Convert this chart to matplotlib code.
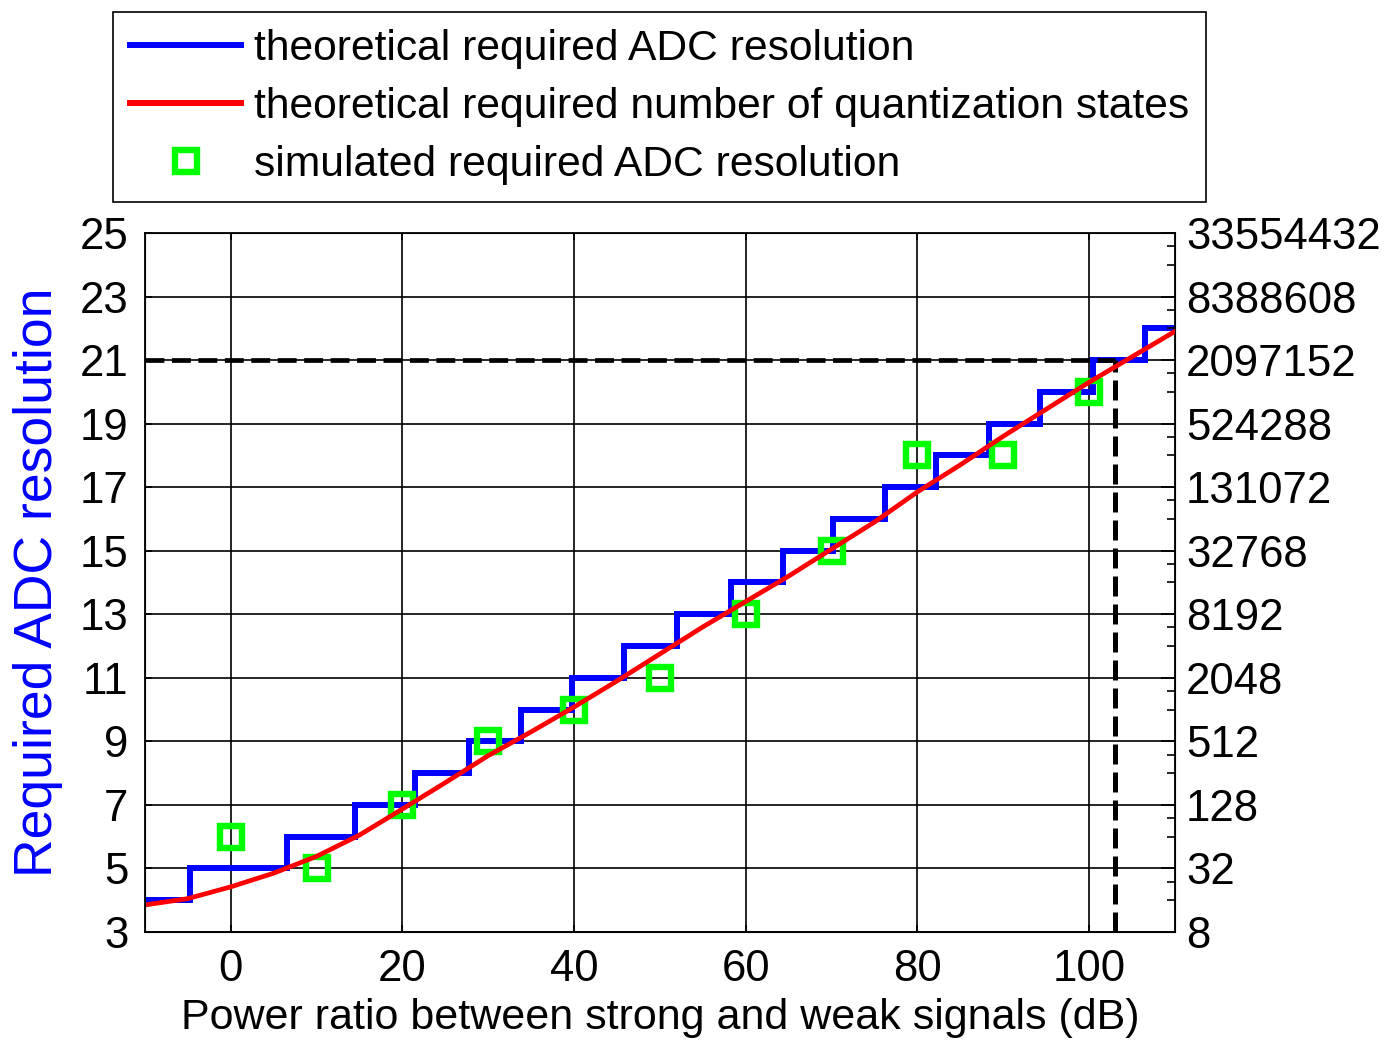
import matplotlib.pyplot as plt
from matplotlib.lines import Line2D
import numpy as np

plt.rcParams['font.family'] = ['Liberation Sans', 'DejaVu Sans']

# red curve: theoretical required number of quantization states (log2)
red_x = [-10, -5, 0, 5, 10, 15, 20, 25, 30, 35, 40, 45, 50, 55,
         60, 65, 70, 75, 80, 85, 90, 95, 100, 105, 110]
red_y = [3.85, 4.05, 4.42, 4.85, 5.38, 6.05, 6.87, 7.7, 8.55, 9.3, 10.08,
         10.9, 11.75, 12.6, 13.4, 14.2, 15.05, 15.9, 16.85, 17.7, 18.6,
         19.45, 20.3, 21.1, 21.9]

# blue staircase: theoretical required ADC resolution
step_edges = [-10, -4.7, 6.6, 14.5, 21.5, 27.8, 33.8, 39.8, 45.8, 52, 58.3,
              64.3, 70.2, 76.2, 82.2, 88.4, 94.3, 100.5, 106.5, 110]
step_bits = [4, 5, 6, 7, 8, 9, 10, 11, 12, 13, 14, 15, 16, 17, 18, 19, 20, 21, 22]

# green squares: simulated
sim_x = [0, 10, 20, 30, 40, 50, 60, 70, 80, 90, 100]
sim_y = [6, 5, 7, 9, 10, 11, 13, 15, 18, 18, 20]

# dashed marker lines
thr_bits = 21
thr_db = 103

xticks = [0, 20, 40, 60, 80, 100]
yticks = list(range(3, 26, 2))

fs = 30.7
tfs = 31.5

fig = plt.figure(figsize=(13.87, 10.42), dpi=100)
ax = fig.add_axes([0.1045, 0.1056, 0.7425, 0.6708])

ax.stairs(step_bits, step_edges, color='blue', lw=4.3, zorder=2, baseline=None)
ax.plot([-10, thr_db], [thr_bits, thr_bits], color='black', lw=3.4,
        dashes=(4, 1.6), zorder=3)
ax.plot([thr_db, thr_db], [3, thr_bits], color='black', lw=3.6,
        dashes=(4, 1.6), zorder=3)
ax.plot(sim_x, sim_y, ls='none', marker='s', ms=15.5, mew=4.6,
        mfc='none', mec=(0, 1, 0), zorder=4)
ax.plot(red_x, red_y, color='red', lw=3.4, zorder=5)

ax.set_xlim(-10, 110)
ax.set_ylim(3, 25)
ax.set_xticks(xticks)
ax.set_yticks(yticks)
ax.grid(True, color='black', lw=1.2, ls='-')
ax.tick_params(direction='in', labelsize=tfs, length=5, width=1.2,
               top=True, right=False, pad=12)
for s in ax.spines.values():
    s.set_linewidth(1.3)

ax.set_xlabel('Power ratio between strong and weak signals (dB)',
              fontsize=31, labelpad=6)
ax.set_ylabel('Required ADC resolution', fontsize=38.5, color='blue',
              labelpad=12)

# right axis, number of quantization states
ax2 = ax.twinx()
ax2.set_ylim(3, 25)
ax2.set_yticks(yticks)
ax2.set_yticklabels([str(2 ** n) for n in yticks])
minor = [n + np.log2(k) for n in yticks for k in (2, 3)]
minor = [v for v in minor if 3 < v < 25]
ax2.set_yticks(minor, minor=True)
ax2.tick_params(which='major', direction='in', labelsize=tfs, length=10,
                width=1.2, pad=8)
ax2.tick_params(which='minor', direction='in', length=6, width=1.2)

handles = [
    Line2D([], [], color='blue', lw=4.3),
    Line2D([], [], color='red', lw=4.3),
    Line2D([], [], ls='none', marker='s', ms=15.5, mew=4.6,
           mfc='none', mec=(0, 1, 0)),
]
labels = ['theoretical required ADC resolution',
          'theoretical required number of quantization states',
          'simulated required ADC resolution']
leg = fig.legend(handles, labels, loc='upper left',
                 bbox_to_anchor=(0.0815, 0.9885), fontsize=fs,
                 frameon=True, fancybox=False, framealpha=1,
                 edgecolor='black', borderpad=0.4, labelspacing=0.42,
                 handlelength=2.6, handletextpad=0.3, borderaxespad=0)
leg.get_frame().set_linewidth(1.2)

fig.savefig('out.png', dpi=100)
